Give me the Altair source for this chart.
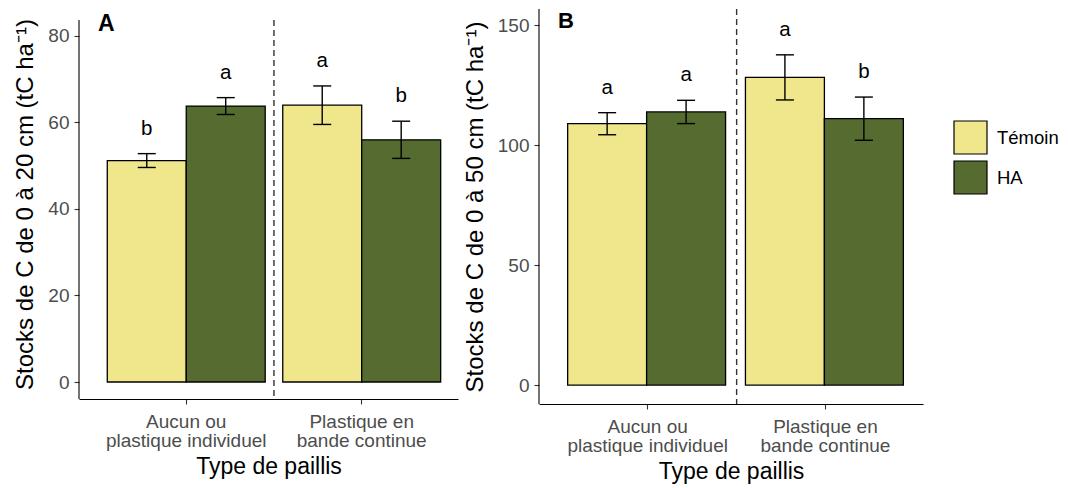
import json
import altair as alt
import pandas as pd

# ---------------- data ----------------
paillis = ["Aucun ou plastique individuel", "Plastique en bande continue"]
paillis_lignes = [["Aucun ou", "plastique individuel"], ["Plastique en", "bande continue"]]
traitements = ["Témoin", "HA"]
couleurs = ["#F0E68C", "#556B2F"]

# Panel A : 0-20 cm
a_temoin = [51.2, 64.0]
a_ha = [63.8, 56.0]
a_se_temoin = [1.6, 4.45]
a_se_ha = [1.95, 4.3]
a_lettres_temoin = ["b", "a"]
a_lettres_ha = ["a", "b"]
a_ticks = [0, 20, 40, 60, 80]
a_axe = [-3.93, 83.7]        # extent of the panel's axis line
a_domaine = [-3.93, 86.24]

# Panel B : 0-50 cm
b_temoin = [108.9, 128.2]
b_ha = [113.8, 111.0]
b_se_temoin = [4.6, 9.4]
b_se_ha = [4.85, 9.0]
b_lettres_temoin = ["a", "a"]
b_lettres_ha = ["a", "b"]
b_ticks = [0, 50, 100, 150]
b_axe = [-7.9, 156.7]
b_domaine = [-7.9, 156.7]

FONT = "Liberation Sans"
GRAY = "#4D4D4D"


def make_df(t, h, st, sh, lt, lh):
    rows = []
    for i, p in enumerate(paillis):
        rows.append(dict(paillis=p, traitement="Témoin", moyenne=t[i], se=st[i], lettre=lt[i]))
        rows.append(dict(paillis=p, traitement="HA", moyenne=h[i], se=sh[i], lettre=lh[i]))
    df = pd.DataFrame(rows)
    df["bas"] = df["moyenne"] - df["se"]
    df["haut"] = df["moyenne"] + df["se"]
    return df


label_expr = " : ".join(
    f"datum.value == {json.dumps(p)} ? {json.dumps(l)}" for p, l in zip(paillis, paillis_lignes)
) + " : datum.value"

xscale = alt.Scale(paddingInner=0.1, paddingOuter=0.13, align=0.62)


def panel(df, ytitle, ydomain, yticks, axe, width, height, letter, letter_y, letter_size):
    x = alt.X(
        "paillis:N", sort=paillis, scale=xscale, title="Type de paillis",
        axis=alt.Axis(labelExpr=label_expr, labelAngle=0, labelFontSize=19, labelLineHeight=19.5,
                      labelColor=GRAY, labelFont=FONT, labelPadding=8, tickSize=5,
                      titleFontSize=23, titleFont=FONT, titleColor="black", titleFontWeight="normal",
                      titlePadding=5),
    )
    xoff = alt.XOffset("traitement:N", sort=traitements, scale=alt.Scale(paddingInner=0, paddingOuter=0))
    yscale = alt.Scale(domain=ydomain, nice=False, zero=False)
    y = alt.Y(
        "moyenne:Q", scale=yscale, title=ytitle,
        axis=alt.Axis(values=yticks, domain=False, labelFontSize=19, labelColor=GRAY, labelFont=FONT,
                      labelPadding=5, tickSize=5, titleFontSize=24, titleFont=FONT,
                      titleColor="black", titleFontWeight="normal", titlePadding=10),
    )
    color = alt.Color(
        "traitement:N", sort=traitements,
        scale=alt.Scale(domain=traitements, range=couleurs),
        legend=alt.Legend(title=None, orient="none", legendX=874, legendY=111,
                          symbolType="square", symbolSize=1089, symbolStrokeColor="black",
                          symbolStrokeWidth=1.2, labelFontSize=18.5, labelFont=FONT,
                          labelColor="black", labelOffset=9, rowPadding=1),
    )
    base = alt.Chart(df)
    bars = base.mark_bar(stroke="black", strokeWidth=1.3).encode(
        x=x, xOffset=xoff, y=y, y2=alt.datum(0), color=color
    )
    err = base.mark_rule(color="black", strokeWidth=1.4).encode(
        x=x, xOffset=xoff, y=alt.Y("bas:Q", scale=yscale), y2="haut:Q"
    )
    cap_lo = base.mark_tick(color="black", size=18, thickness=1.4, opacity=1).encode(
        x=x, xOffset=xoff, y=alt.Y("bas:Q", scale=yscale)
    )
    cap_hi = base.mark_tick(color="black", size=18, thickness=1.4, opacity=1).encode(
        x=x, xOffset=xoff, y=alt.Y("haut:Q", scale=yscale)
    )
    txt = base.mark_text(fontSize=20.5, font=FONT, color="black", baseline="alphabetic", dy=-19).encode(
        x=x, xOffset=xoff, y=alt.Y("haut:Q", scale=yscale), text="lettre:N"
    )
    # vertical dashed separator between the two mulch types
    sep_df = pd.DataFrame({"paillis": [paillis[1]]})
    sep = alt.Chart(sep_df).mark_rule(color="#333333", strokeWidth=1.4, strokeDash=[6, 4]).encode(
        x=alt.X("paillis:N", sort=paillis, scale=xscale),
        xOffset=alt.value(-8.8),
        y=alt.datum(axe[1], scale=yscale),
        y2=alt.datum(axe[0]),
    )
    # y axis line
    yline = alt.Chart(sep_df).mark_rule(color="black", strokeWidth=1.1).encode(
        x=alt.value(0),
        y=alt.datum(axe[1], scale=yscale),
        y2=alt.datum(axe[0]),
    )
    lab = alt.Chart(pd.DataFrame({"lbl": [letter]})).mark_text(
        fontSize=letter_size, fontWeight="bold", font=FONT, color="black", align="left",
        baseline="alphabetic"
    ).encode(text="lbl:N", x=alt.value(19), y=alt.value(letter_y))
    return alt.layer(bars, err, cap_lo, cap_hi, txt, sep, yline, lab).properties(
        width=width, height=height
    )


dfA = make_df(a_temoin, a_ha, a_se_temoin, a_se_ha, a_lettres_temoin, a_lettres_ha)
dfB = make_df(b_temoin, b_ha, b_se_temoin, b_se_ha, b_lettres_temoin, b_lettres_ha)

pA = panel(dfA, "Stocks de C de 0 à 20 cm (tC ha⁻¹)", a_domaine, a_ticks, a_axe, 379, 390, "A", 22, 23)
pB = panel(dfB, "Stocks de C de 0 à 50 cm (tC ha⁻¹)", b_domaine, b_ticks, b_axe, 384, 395, "B", 19, 22)

chart = alt.hconcat(pA, pB, spacing=5).resolve_scale(
    x="independent", y="independent", color="shared"
).properties(
    padding={"left": 5, "top": 0, "right": 0, "bottom": 0}
).configure_view(stroke=None).configure_axis(
    grid=False, domainColor="black", domainWidth=1.1, tickColor="#333333", tickWidth=1.1
)

chart.save("out.html", embed_options={"renderer": "svg", "actions": False})
